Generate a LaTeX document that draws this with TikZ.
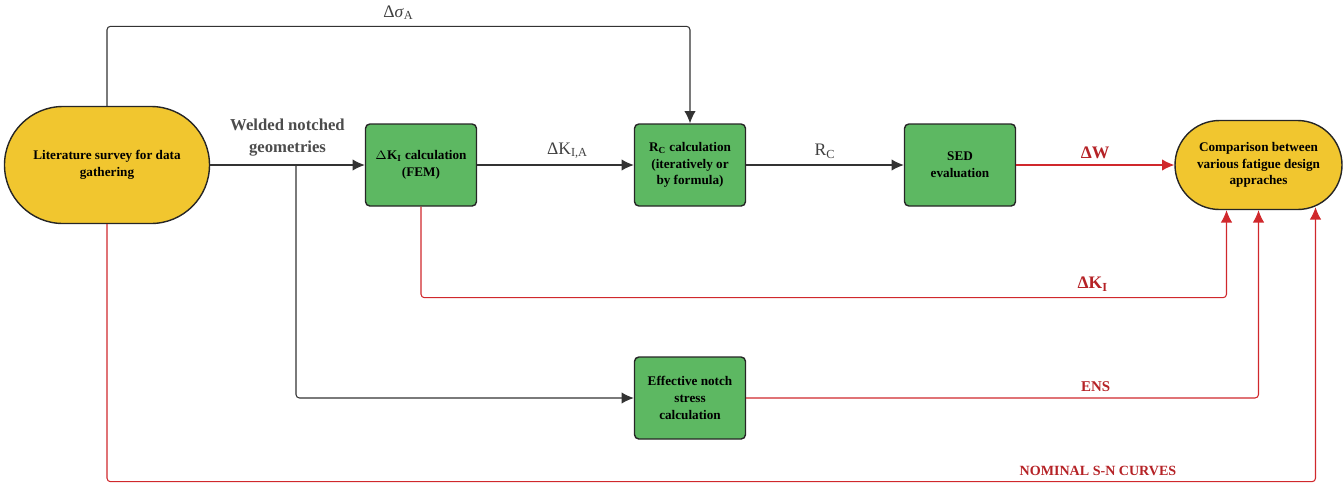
\documentclass[tikz,border=0pt]{standalone}
\usepackage{fontspec}
\setmainfont{Liberation Serif}
\usetikzlibrary{arrows.meta}

\definecolor{survey}{HTML}{F1C62F}
\definecolor{calc}{HTML}{5DB862}
\definecolor{edgered}{HTML}{D0282C}
\definecolor{labelred}{HTML}{B52226}

\begin{document}
\begin{tikzpicture}

\tikzset{pill/.style = {draw=black!85, line width=0.8pt, fill=survey, align=center, font=\fontsize{7.5}{9.5}\selectfont\bfseries}}
\tikzset{block/.style = {draw=black!85, line width=0.8pt, fill=calc, rounded corners=2.5pt, minimum width=2.22cm, minimum height=1.64cm, align=center, font=\fontsize{7.5}{9.5}\selectfont\bfseries}}
\tikzset{edge/.style = {-{Latex[length=7pt,width=6.5pt]}, draw=black!80, line width=0.6pt, rounded corners=2pt}}
\tikzset{rededge/.style = {edge, draw=edgered, color=edgered}}
\tikzset{lbl/.style = {align=center, font=\fontsize{10}{12.5}\selectfont, text=black!75}}
\tikzset{redlbl/.style = {font=\fontsize{8.5}{10}\selectfont\bfseries, text=labelred}}
\useasboundingbox (0,0) rectangle (26.88,-9.66);
%nodes
\node[pill, rounded corners=1.17cm, minimum width=4.1cm, minimum height=2.34cm] (survey) at (2.14,-3.3) {Literature survey for data\\gathering};
\node[block] (kcalc) at (8.42,-3.3) {$\Delta$K\textsubscript{I} calculation\\(FEM)};
\node[block] (rccalc) at (13.8,-3.3) {R\textsubscript{C} calculation\\(iteratively or\\by formula)};
\node[block] (sed) at (19.2,-3.3) {SED\\evaluation};
\node[block] (ens) at (13.8,-7.96) {Effective notch\\stress\\calculation};
\node[pill, rounded corners=0.89cm, minimum width=3.34cm, minimum height=1.78cm] (comp) at (25.17,-3.3) {Comparison between\\various fatigue design\\appraches};
\coordinate (split) at (5.92,-3.3);
%edges
\draw[edge] (survey.north) -- ++(0,1.59) -| node[lbl, pos=0.25, above] {Δ\textit{σ}\textsubscript{A}} (rccalc.north);
\draw[edge] (survey) -- node[lbl, midway, above, yshift=0.05cm, font=\fontsize{9.5}{12.5}\selectfont\bfseries, text=black!70] {Welded notched\\geometries} (kcalc);
\draw[edge] (split) |- (ens.west);
\draw[edge] (kcalc) -- node[lbl, midway, above, xshift=0.24cm] {ΔK\textsubscript{I,A}} (rccalc);
\draw[edge] (rccalc) -- node[lbl, midway, above] {R\textsubscript{C}} (sed);
\draw[rededge] (sed) -- node[redlbl, midway, above, font=\fontsize{10}{12}\selectfont\bfseries] {ΔW} (comp);
\draw[rededge] (kcalc.south) -- ++(0,-1.82) -| node[redlbl, pos=0.417, above, font=\fontsize{10}{12}\selectfont\bfseries] {ΔK\textsubscript{I}} ([xshift=-0.64cm]comp.south);
\draw[rededge] (ens.east) -| node[redlbl, pos=0.341, above] {ENS} (comp.south);
\draw[rededge] (survey.south) -- ++(0,-5.15) -| node[redlbl, pos=0.41, above, font=\fontsize{8}{10}\selectfont\bfseries] {NOMINAL S-N CURVES} ([xshift=1.14cm,yshift=0.06cm]comp.south);

\end{tikzpicture}
\end{document}
